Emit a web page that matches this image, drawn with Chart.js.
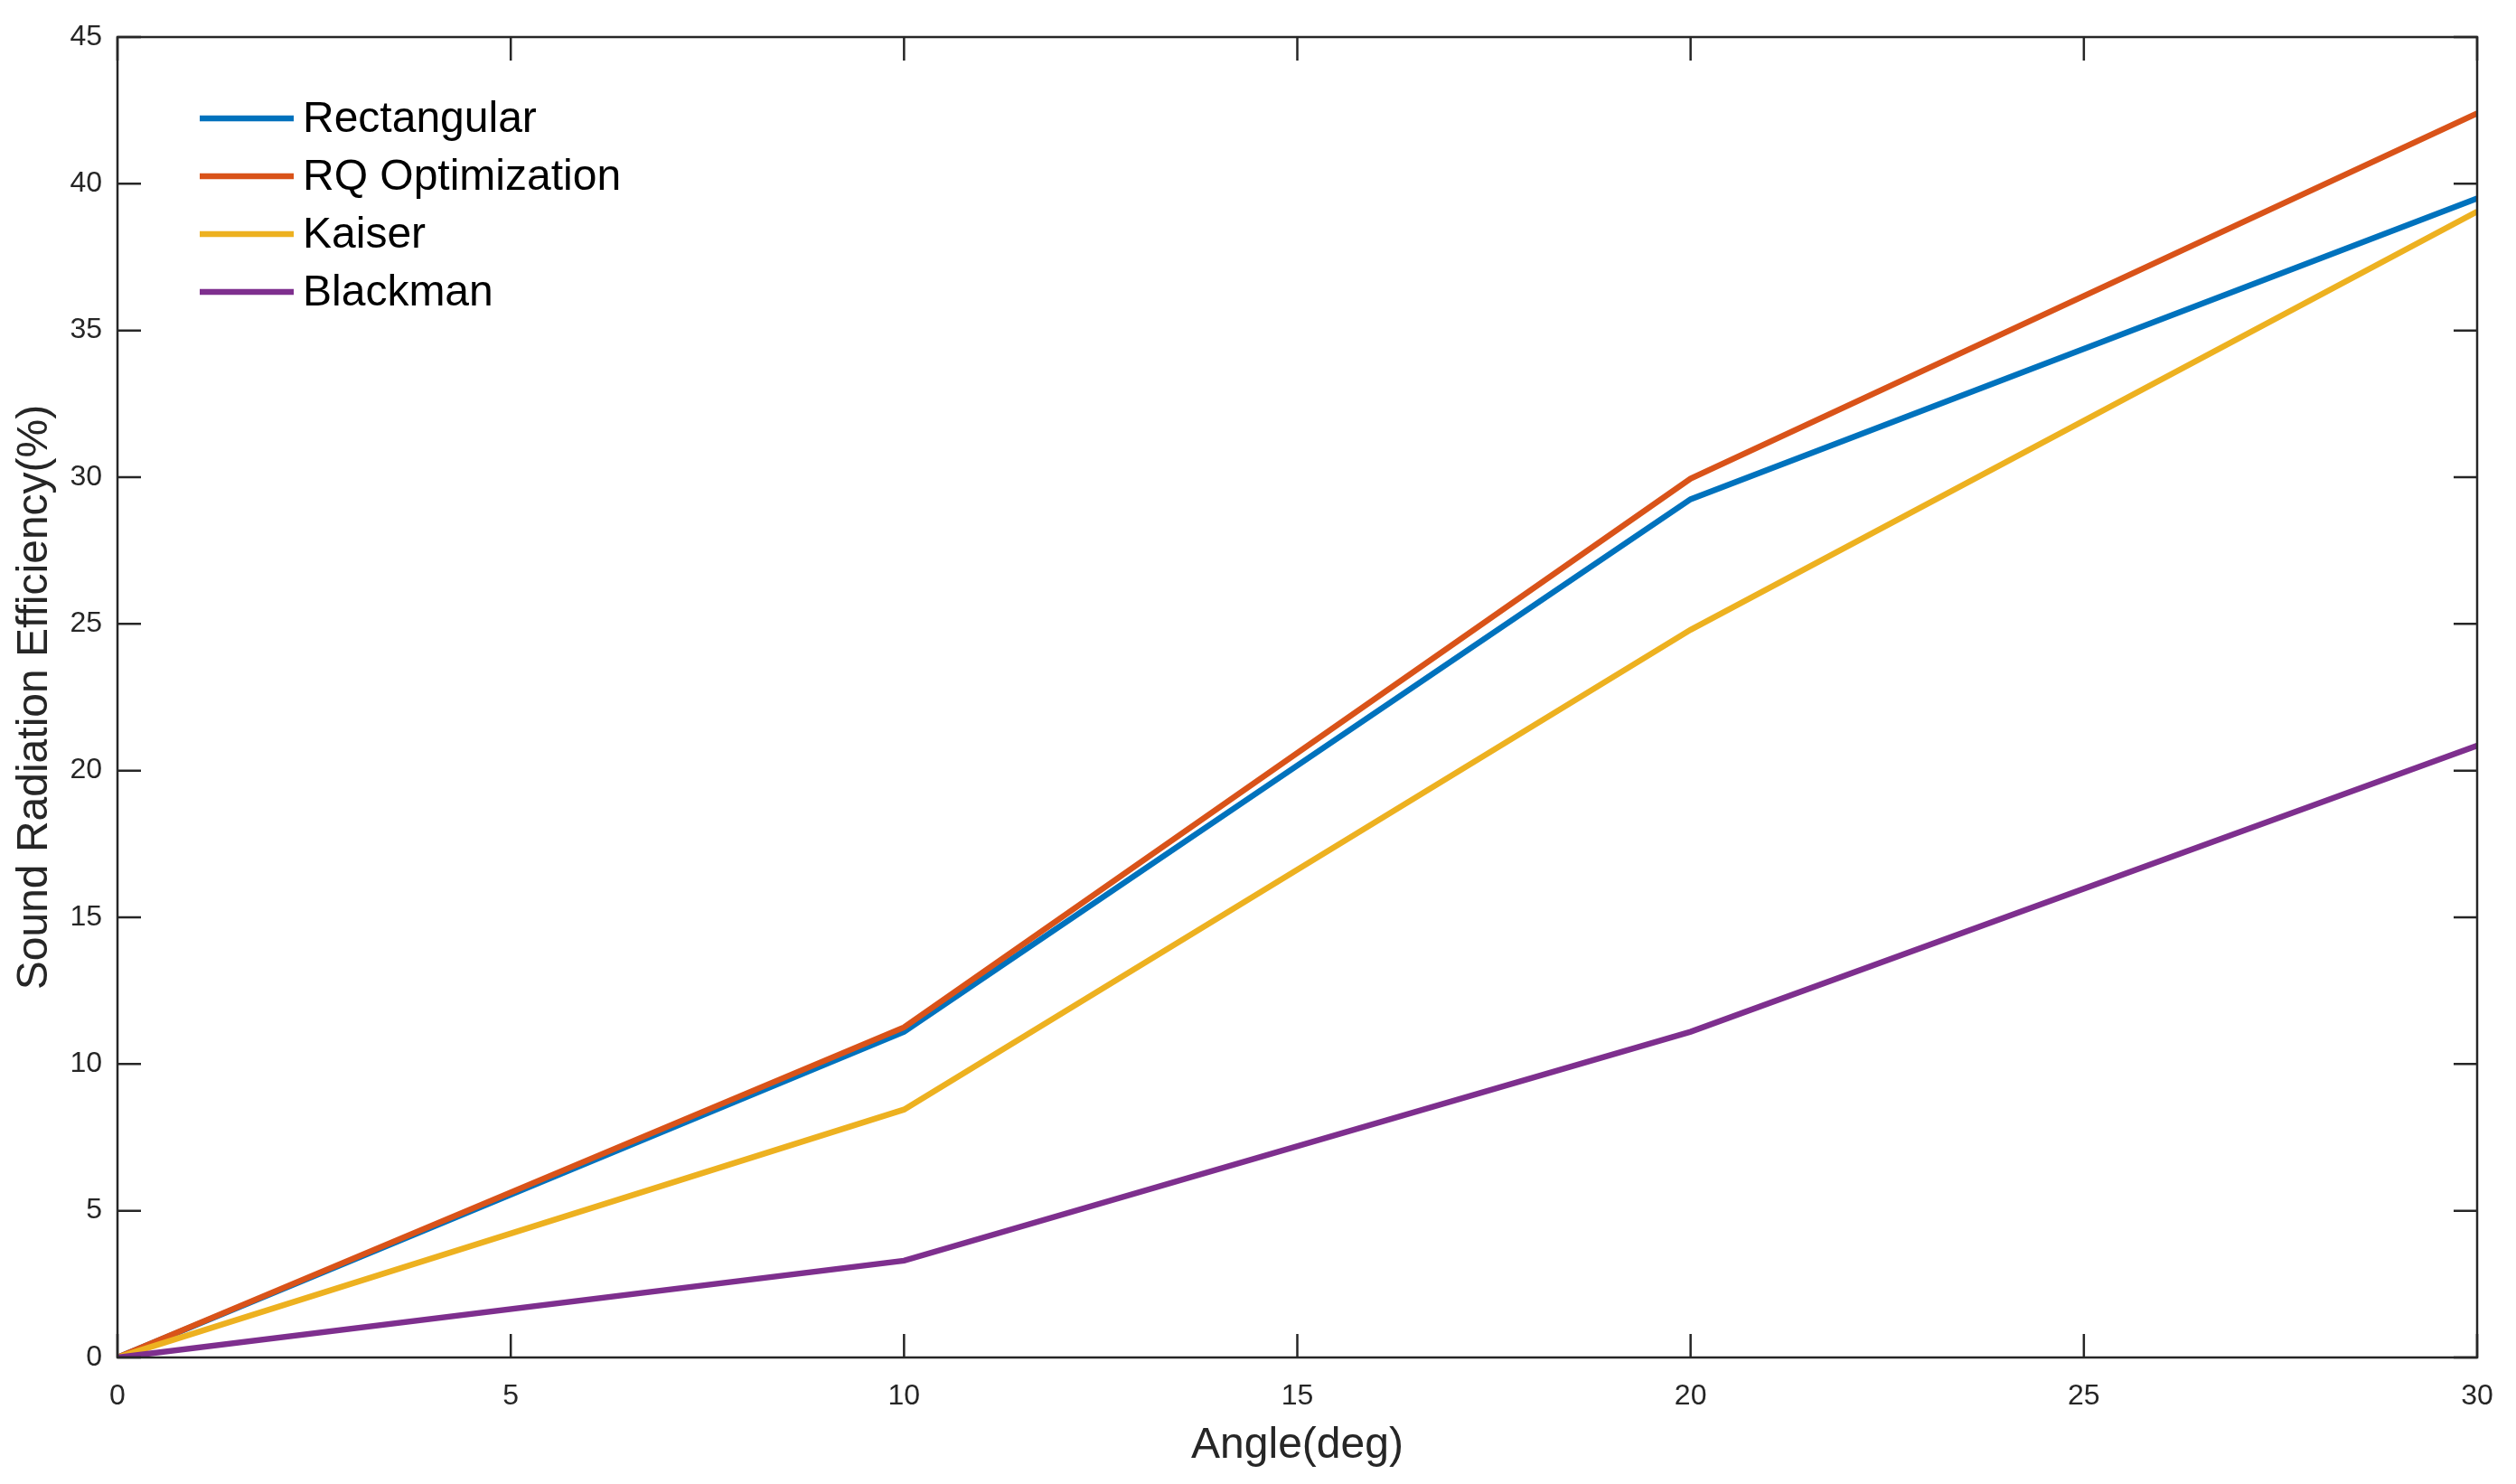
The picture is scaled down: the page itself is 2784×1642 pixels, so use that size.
<!DOCTYPE html>
<html lang="en">
<head>
    <meta charset="UTF-8">
    <title>Sound Radiation Efficiency</title>
    <script src="https://cdn.jsdelivr.net/npm/chart.js"></script>
    <style>
        html, body { margin: 0; padding: 0; background: #fff; }
        #wrap { width: 2784px; height: 1642px; }
    </style>
</head>
<body>
    <div id="wrap"><canvas id="effChart" width="2784" height="1642"></canvas></div>

    <script>
        // datos
        const angles = [0, 10, 20, 30];
        const rectangular = [0, 11.1, 29.25, 39.5];
        const rqOptimization = [0, 11.25, 29.95, 42.4];
        const kaiser = [0, 8.45, 24.8, 39.05];
        const blackman = [0, 3.3, 11.1, 20.85];

        const seriesNames = ['Rectangular', 'RQ Optimization', 'Kaiser', 'Blackman'];
        const seriesColors = ['#0072BD', '#D95319', '#EDB120', '#7E2F8E'];
        const xTicks = [0, 5, 10, 15, 20, 25, 30];
        const yTicks = [0, 5, 10, 15, 20, 25, 30, 35, 40, 45];

        const FONT = '"Liberation Sans", Arial, Helvetica, sans-serif';
        const AXIS = '#262626';

        function toPoints(values) {
            return angles.map((a, i) => ({ x: a, y: values[i] }));
        }

        const allSeries = [rectangular, rqOptimization, kaiser, blackman];

        // caja estilo matlab, ticks hacia dentro, titulos y leyenda
        const matlabBox = {
            id: 'matlabBox',
            afterDatasetsDraw(chart) {
                const ctx = chart.ctx;
                const a = chart.chartArea;
                const xs = chart.scales.x;
                const ys = chart.scales.y;
                const tl = 26;

                ctx.save();
                ctx.strokeStyle = AXIS;
                ctx.lineWidth = 2.5;
                ctx.beginPath();
                xTicks.forEach(v => {
                    const px = xs.getPixelForValue(v);
                    ctx.moveTo(px, a.bottom); ctx.lineTo(px, a.bottom - tl);
                    ctx.moveTo(px, a.top); ctx.lineTo(px, a.top + tl);
                });
                yTicks.forEach(v => {
                    const py = ys.getPixelForValue(v);
                    ctx.moveTo(a.left, py); ctx.lineTo(a.left + tl, py);
                    ctx.moveTo(a.right, py); ctx.lineTo(a.right - tl, py);
                });
                ctx.stroke();
                ctx.strokeRect(a.left, a.top, a.right - a.left, a.bottom - a.top);

                // titulos de ejes
                ctx.fillStyle = AXIS;
                ctx.font = '48px ' + FONT;
                ctx.textAlign = 'center';
                ctx.textBaseline = 'middle';
                ctx.fillText('Angle(deg)', (a.left + a.right) / 2, 1600);
                ctx.translate(39, (a.top + a.bottom) / 2);
                ctx.rotate(-Math.PI / 2);
                ctx.fillText('Sound Radiation Efficiency(%)', 0, 0);
                ctx.restore();

                // leyenda
                ctx.save();
                ctx.font = '48px ' + FONT;
                ctx.textAlign = 'left';
                ctx.textBaseline = 'middle';
                seriesNames.forEach((name, i) => {
                    const y = 131 + i * 64;
                    ctx.strokeStyle = seriesColors[i];
                    ctx.lineWidth = 6.5;
                    ctx.beginPath();
                    ctx.moveTo(221, y); ctx.lineTo(325, y);
                    ctx.stroke();
                    ctx.fillStyle = '#000';
                    ctx.fillText(name, 335, y + 2);
                });
                ctx.restore();
            }
        };

        new Chart(document.getElementById('effChart').getContext('2d'), {
            type: 'line',
            data: {
                datasets: seriesNames.map((name, i) => ({
                    label: name,
                    data: toPoints(allSeries[i]),
                    borderColor: seriesColors[i],
                    backgroundColor: seriesColors[i],
                    borderWidth: 6.5,
                    pointRadius: 0,
                    tension: 0,
                    fill: false,
                    order: seriesNames.length - i
                }))
            },
            options: {
                responsive: false,
                animation: false,
                devicePixelRatio: 1,
                layout: { padding: { top: 41, right: 43, left: 0, bottom: 0 } },
                plugins: { legend: { display: false }, tooltip: { enabled: false } },
                scales: {
                    x: {
                        type: 'linear',
                        min: 0, max: 30,
                        afterFit: s => { s.height = 140; },
                        afterBuildTicks: s => { s.ticks = xTicks.map(v => ({ value: v })); },
                        grid: { display: false, drawTicks: false },
                        border: { display: false },
                        ticks: { color: AXIS, padding: 24, maxRotation: 0, font: { family: FONT, size: 32 } }
                    },
                    y: {
                        min: 0, max: 45,
                        afterFit: s => { s.width = 130; },
                        afterBuildTicks: s => { s.ticks = yTicks.map(v => ({ value: v })); },
                        grid: { display: false, drawTicks: false },
                        border: { display: false },
                        ticks: { color: AXIS, padding: 17, font: { family: FONT, size: 32 } }
                    }
                }
            },
            plugins: [matlabBox]
        });
    </script>
</body>
</html>
